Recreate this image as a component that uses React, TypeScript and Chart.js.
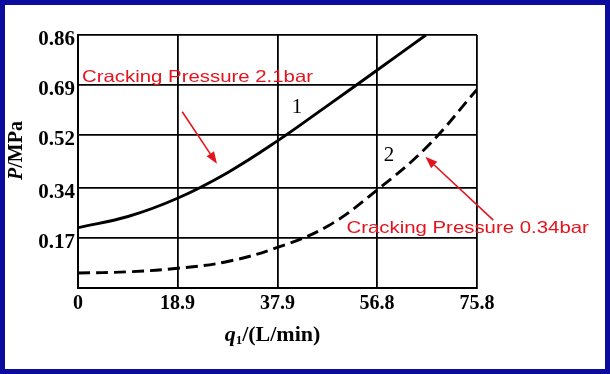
import React, { useEffect, useRef } from 'react';
import { Chart, registerables } from 'chart.js';

Chart.register(...registerables);

// Axis ticks
const X_TICKS = [0, 18.9, 37.9, 56.8, 75.8];
const X_TICK_LABELS = ['0', '18.9', '37.9', '56.8', '75.8'];
const Y_TICKS = [0, 0.17, 0.34, 0.52, 0.69, 0.86];
const Y_TICK_LABELS = ['', '0.17', '0.34', '0.52', '0.69', '0.86'];

// Curve 1 (solid): flow q (L/min) vs pressure p (MPa)
const CURVE1_Q = [0, 9.5, 18.9, 28.4, 37.9, 47.4, 56.8, 66.1];
const CURVE1_P = [0.205, 0.243, 0.305, 0.392, 0.5, 0.62, 0.74, 0.86];

// Curve 2 (dashed)
const CURVE2_Q = [0, 9.5, 18.9, 28.4, 37.9, 47.4, 56.8, 66.3, 75.8];
const CURVE2_P = [0.051, 0.055, 0.067, 0.09, 0.138, 0.21, 0.333, 0.48, 0.675];

// Curve name labels (data coordinates)
const CURVE_NAMES = ['1', '2'];
const CURVE_NAME_Q = [41.6, 59.1];
const CURVE_NAME_P = [0.612, 0.452];

// Red notes (left anchor, data coordinates)
const NOTES = ['Cracking Pressure 2.1bar', 'Cracking Pressure 0.34bar'];
const NOTE_Q = [0.76, 51.0];
const NOTE_P = [0.717, 0.204];

// Red arrows (tail -> tip, data coordinates)
const ARROW_FROM_Q = [19.8, 78.9];
const ARROW_FROM_P = [0.599, 0.231];
const ARROW_TO_Q = [26.4, 66.0];
const ARROW_TO_P = [0.422, 0.446];

const RED = '#e4141e';
const SERIF = '"Liberation Serif", "DejaVu Serif", serif';
const SANS = '"Liberation Sans", Arial, sans-serif';

const annotPlugin = {
  id: 'annot',
  afterDatasetsDraw(chart: any) {
    const { ctx, scales, chartArea } = chart;
    const xs = scales.x;
    const ys = scales.y;
    ctx.save();

    // curve numbers
    ctx.fillStyle = '#000';
    ctx.font = `21px ${SERIF}`;
    ctx.textAlign = 'center';
    ctx.textBaseline = 'middle';
    CURVE_NAMES.forEach((t, i) => {
      ctx.fillText(t, xs.getPixelForValue(CURVE_NAME_Q[i]), ys.getPixelForValue(CURVE_NAME_P[i]));
    });

    // red notes
    ctx.fillStyle = RED;
    ctx.font = `16.5px ${SANS}`;
    ctx.textAlign = 'left';
    NOTES.forEach((t, i) => {
      ctx.save();
      ctx.translate(xs.getPixelForValue(NOTE_Q[i]), ys.getPixelForValue(NOTE_P[i]));
      ctx.scale(1.235, 1);
      ctx.fillText(t, 0, 0);
      ctx.restore();
    });

    // red arrows
    ctx.strokeStyle = RED;
    ctx.lineWidth = 1.6;
    ARROW_FROM_Q.forEach((_, i) => {
      const x0 = xs.getPixelForValue(ARROW_FROM_Q[i]);
      const y0 = ys.getPixelForValue(ARROW_FROM_P[i]);
      const x1 = xs.getPixelForValue(ARROW_TO_Q[i]);
      const y1 = ys.getPixelForValue(ARROW_TO_P[i]);
      const ang = Math.atan2(y1 - y0, x1 - x0);
      const len = 12;
      const hw = 4.5;
      const bx = x1 - Math.cos(ang) * len;
      const by = y1 - Math.sin(ang) * len;
      ctx.beginPath();
      ctx.moveTo(x0, y0);
      ctx.lineTo(bx, by);
      ctx.stroke();
      ctx.beginPath();
      ctx.moveTo(x1, y1);
      ctx.lineTo(bx + Math.sin(ang) * hw, by - Math.cos(ang) * hw);
      ctx.lineTo(bx - Math.sin(ang) * hw, by + Math.cos(ang) * hw);
      ctx.closePath();
      ctx.fill();
    });

    // x axis title: q1/(L/min)
    ctx.fillStyle = '#000';
    ctx.textBaseline = 'middle';
    ctx.textAlign = 'left';
    {
      const cx = (chartArea.left + chartArea.right) / 2 - 5;
      const cy = chartArea.bottom + 47;
      const fQ = `italic bold 22px ${SERIF}`;
      const fS = `bold 13px ${SERIF}`;
      const fR = `bold 22px ${SERIF}`;
      ctx.font = fQ; const wq = ctx.measureText('q').width;
      ctx.font = fS; const ws = ctx.measureText('1').width;
      ctx.font = fR; const wr = ctx.measureText('/(L/min)').width;
      let x = cx - (wq + ws + wr) / 2;
      ctx.font = fQ; ctx.fillText('q', x, cy); x += wq;
      ctx.font = fS; ctx.fillText('1', x, cy + 6); x += ws;
      ctx.font = fR; ctx.fillText('/(L/min)', x, cy);
    }

    // y axis title: P/MPa
    {
      const cx = 12;
      const cy = (chartArea.top + chartArea.bottom) / 2 - 11;
      ctx.save();
      ctx.translate(cx, cy);
      ctx.rotate(-Math.PI / 2);
      const fP = `italic bold 20px ${SERIF}`;
      const fR = `bold 20px ${SERIF}`;
      ctx.font = fP; const wp = ctx.measureText('P').width;
      ctx.font = fR; const wr = ctx.measureText('/MPa').width;
      let x = -(wp + wr) / 2;
      ctx.font = fP; ctx.fillText('P', x, 0); x += wp;
      ctx.font = fR; ctx.fillText('/MPa', x, 0);
      ctx.restore();
    }

    ctx.restore();
  },
};

export default function App() {
  const ref = useRef<HTMLCanvasElement | null>(null);

  useEffect(() => {
    if (!ref.current) return;
    const chart = new Chart(ref.current, {
      type: 'line',
      data: {
        datasets: [
          {
            label: '1',
            data: CURVE1_Q.map((q, i) => ({ x: q, y: CURVE1_P[i] })),
            borderColor: '#000',
            borderWidth: 2.9,
            pointRadius: 0,
            tension: 0.4,
            fill: false,
          },
          {
            label: '2',
            data: CURVE2_Q.map((q, i) => ({ x: q, y: CURVE2_P[i] })),
            borderColor: '#000',
            borderWidth: 2.9,
            borderDash: [12, 6],
            pointRadius: 0,
            tension: 0.4,
            fill: false,
          },
        ],
      },
      options: {
        animation: false,
        responsive: false,
        maintainAspectRatio: false,
        layout: { padding: { top: 30, right: 128, left: 0, bottom: 0 } },
        plugins: {
          legend: { display: false },
          tooltip: { enabled: false },
        },
        scales: {
          x: {
            type: 'linear',
            min: 0,
            max: 75.8,
            afterBuildTicks: (scale: any) => {
              scale.ticks = X_TICKS.map((v) => ({ value: v }));
            },
            afterFit: (scale: any) => {
              scale.height = 81;
            },
            grid: { color: '#000', lineWidth: 1.8, drawTicks: false },
            border: { display: true, color: '#000', width: 2 },
            ticks: {
              autoSkip: false,
              maxRotation: 0,
              padding: 4,
              color: '#000',
              font: { family: SERIF, size: 20, weight: 'bold' },
              callback: (v: any) => {
                const i = X_TICKS.indexOf(Number(v));
                return i >= 0 ? X_TICK_LABELS[i] : '';
              },
            },
          },
          y: {
            type: 'linear',
            min: 0,
            max: 0.86,
            afterBuildTicks: (scale: any) => {
              scale.ticks = Y_TICKS.map((v) => ({ value: v }));
            },
            afterFit: (scale: any) => {
              scale.width = 73;
            },
            grid: { color: '#000', lineWidth: 1.8, drawTicks: false },
            border: { display: true, color: '#000', width: 2 },
            ticks: {
              autoSkip: false,
              padding: 3,
              labelOffset: 5,
              color: '#000',
              font: { family: SERIF, size: 21, weight: 'bold' },
              callback: (v: any) => {
                const i = Y_TICKS.indexOf(Number(v));
                return i >= 0 ? Y_TICK_LABELS[i] : '';
              },
            },
          },
        },
      },
      plugins: [annotPlugin],
    } as any);
    return () => chart.destroy();
  }, []);

  return (
    <div
      style={{
        position: 'fixed',
        left: 0,
        top: 0,
        width: 610,
        height: 374,
        boxSizing: 'border-box',
        border: '5px solid #0b0b9e',
        background: '#fff',
      }}
    >
      <canvas ref={ref} width={600} height={364} style={{ display: 'block', width: 600, height: 364 }} />
    </div>
  );
}
